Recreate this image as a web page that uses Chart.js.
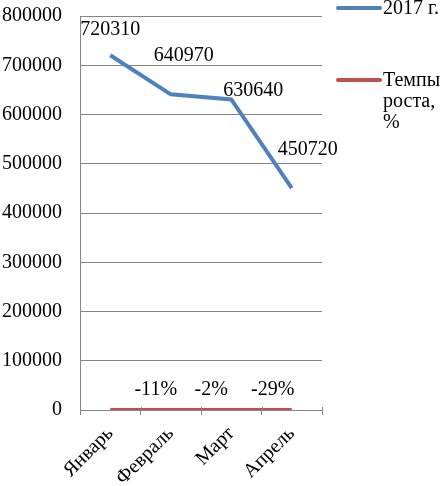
<!DOCTYPE html>
<html><head><meta charset="utf-8">
<script src="https://cdn.jsdelivr.net/npm/chart.js@4/dist/chart.umd.min.js"></script>
<style>html,body{margin:0;padding:0;background:#fff}</style>
</head><body><canvas id="c" width="443" height="486"></canvas>
<script>
const categories = ['Январь', 'Февраль', 'Март', 'Апрель'];
const series2017 = [720310, 640970, 630640, 450720];
const growthRates = [0, -11, -2, -29];
const growthLabels = ['', '-11%', '-2%', '-29%'];
const seriesNames = ['2017 г.', 'Темпы роста, %'];
const legendLines = [['2017 г.'], ['Темпы', 'роста,', '%']];
const yMin = 0, yMax = 800000, yStep = 100000;

// styles (label offsets relative to points)
const blueOffsets = [[0, -25], [13, -39], [22, -9], [16, -38]];
const redOffsets = [[0, 0], [-15, -20], [-20, -20], [-19, -20]];
const FONT = { family: "'Liberation Serif', 'Times New Roman', serif", size: 20 };
const BLUE = '#4F81BD', RED = '#C0504D', GRID = '#868686';

const labelPlugin = {
  id: 'labels',
  afterDatasetsDraw(chart) {
    const ctx = chart.ctx;
    ctx.save();
    // small tick marks crossing the axis upward
    const xs = chart.scales.x, area = chart.chartArea;
    ctx.strokeStyle = GRID;
    ctx.lineWidth = 1;
    const n = categories.length;
    for (let i = 0; i <= n; i++) {
      const x = Math.round(area.left + (area.right - area.left) * i / n) + 0.5;
      ctx.beginPath();
      ctx.moveTo(x, area.bottom - 3);
      ctx.lineTo(x, area.bottom);
      ctx.stroke();
    }
    ctx.font = FONT.size + 'px ' + FONT.family;
    ctx.fillStyle = '#000';
    ctx.textAlign = 'center';
    ctx.textBaseline = 'middle';
    const m0 = chart.getDatasetMeta(0), m1 = chart.getDatasetMeta(1);
    m0.data.forEach((p, i) => {
      ctx.fillText(String(series2017[i]), p.x + blueOffsets[i][0], p.y + blueOffsets[i][1]);
    });
    m1.data.forEach((p, i) => {
      if (growthLabels[i]) ctx.fillText(growthLabels[i], p.x + redOffsets[i][0], p.y + redOffsets[i][1]);
    });
    // legend
    const colors = [BLUE, RED];
    const ys = [8, 80];
    ctx.textAlign = 'left';
    legendLines.forEach((lines, k) => {
      ctx.strokeStyle = colors[k];
      ctx.lineWidth = 4;
      ctx.lineCap = 'round';
      ctx.beginPath();
      ctx.moveTo(338, ys[k]);
      ctx.lineTo(380, ys[k]);
      ctx.stroke();
      lines.forEach((t, j) => ctx.fillText(t, 383, ys[k] + 1 + j * 21));
    });
    ctx.restore();
  }
};

new Chart(document.getElementById('c'), {
  type: 'line',
  data: {
    labels: categories,
    datasets: [
      { label: seriesNames[0], data: series2017, borderColor: BLUE, backgroundColor: BLUE, borderWidth: 4, pointRadius: 0, tension: 0 },
      { label: seriesNames[1], data: growthRates, borderColor: RED, backgroundColor: RED, borderWidth: 4, pointRadius: 0, tension: 0 }
    ]
  },
  options: {
    responsive: false,
    animation: false,
    layout: { padding: { top: 16, right: 121, left: 0, bottom: 0 } },
    plugins: { legend: { display: false }, tooltip: { enabled: false } },
    scales: {
      x: {
        offset: true,
        grid: { display: true, drawOnChartArea: false, drawTicks: true, tickLength: 5, offset: true, color: GRID },
        border: { color: GRID },
        ticks: { maxRotation: 45, minRotation: 45, font: FONT, color: '#000', padding: 7 },
        afterFit: s => { s.height = 76; s.paddingLeft = 0; s.paddingRight = 0; s.paddingTop = 0; s.paddingBottom = 0; }
      },
      y: {
        min: yMin, max: yMax,
        ticks: { stepSize: yStep, font: FONT, color: '#000', padding: 18, callback: v => String(v) },
        grid: { color: GRID, drawTicks: false },
        border: { color: GRID },
        afterFit: s => { s.width = 80; s.paddingTop = 0; s.paddingBottom = 0; s.paddingLeft = 0; s.paddingRight = 0; }
      }
    }
  },
  plugins: [labelPlugin]
});
</script>
</body></html>
